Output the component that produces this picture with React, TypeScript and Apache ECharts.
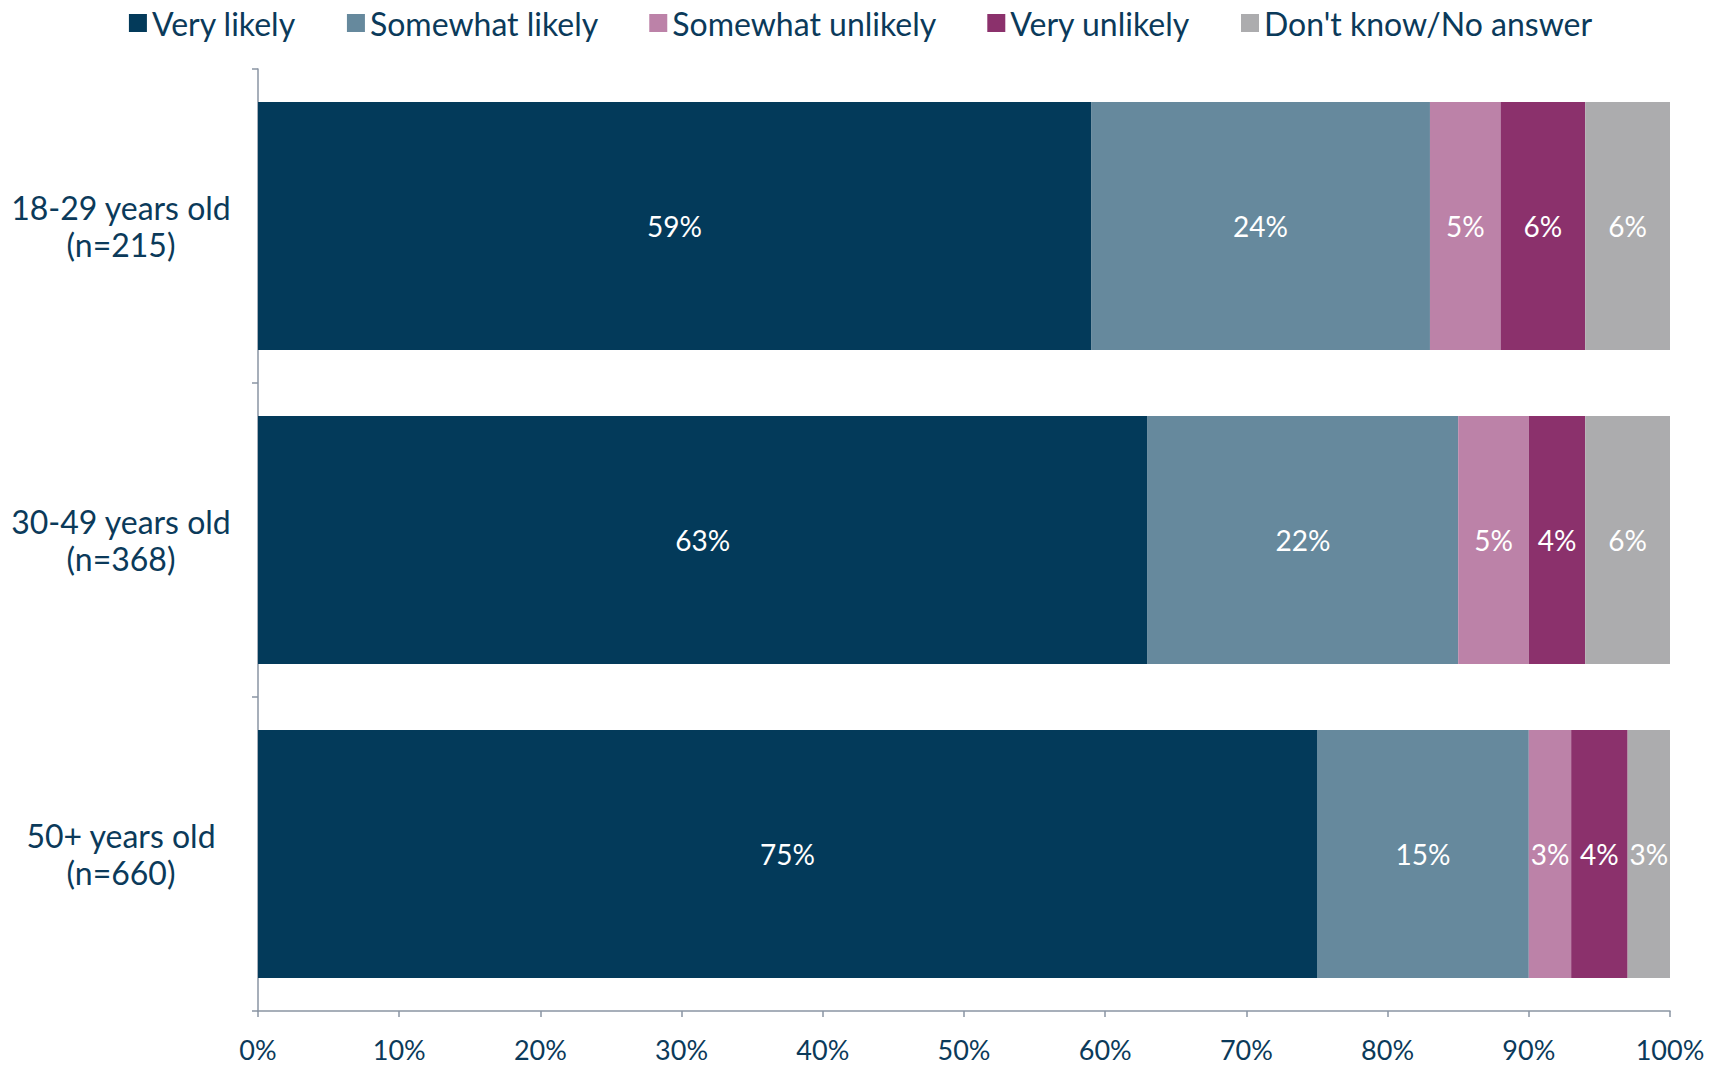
import React, { useEffect, useRef } from "react";
import * as echarts from "echarts";

const categories = ["18-29 years old\n(n=215)", "30-49 years old\n(n=368)", "50+ years old\n(n=660)"];
const seriesNames = ["Very likely", "Somewhat likely", "Somewhat unlikely", "Very unlikely", "Don't know/No answer"];
const veryLikely = [59, 63, 75];
const somewhatLikely = [24, 22, 15];
const somewhatUnlikely = [5, 5, 3];
const veryUnlikely = [6, 4, 4];
const dontKnow = [6, 6, 3];
const xTicks = { min: 0, max: 100, interval: 10 };

const colors = ["#033a5a", "#66899d", "#bc82a8", "#8b316c", "#acacae"];
const textColor = "#0b3a5a";
const font = "Lato, 'Open Sans', sans-serif";

export default function App() {
  const ref = useRef<HTMLDivElement>(null);
  useEffect(() => {
    if (!ref.current) return;
    const chart = echarts.init(ref.current, null, { renderer: "svg" });
    const values = [veryLikely, somewhatLikely, somewhatUnlikely, veryUnlikely, dontKnow];
    chart.setOption({
      animation: false,
      color: colors,
      textStyle: { fontFamily: font },
      legend: {
        top: 2,
        left: "center",
        itemWidth: 18,
        itemHeight: 18,
        itemGap: 51,
        icon: "rect",
        textStyle: { color: textColor, fontSize: 32, fontFamily: font },
        data: seriesNames,
      },
      grid: { left: 258, right: 51, top: 69, bottom: 56 },
      xAxis: {
        type: "value",
        min: xTicks.min,
        max: xTicks.max,
        interval: xTicks.interval,
        axisLine: { show: true, lineStyle: { color: "#8a95a3", width: 1.5 } },
        axisTick: { show: true, length: 6, lineStyle: { color: "#8a95a3", width: 1.5 } },
        splitLine: { show: false },
        axisLabel: { formatter: "{value}%", color: textColor, fontSize: 27, margin: 25, fontFamily: font },
      },
      yAxis: {
        type: "category",
        inverse: true,
        data: categories,
        axisLine: { show: true, lineStyle: { color: "#8a95a3", width: 1.5 } },
        axisTick: { show: true, length: 6, lineStyle: { color: "#8a95a3", width: 1.5 } },
        axisLabel: {
          color: textColor,
          fontSize: 32,
          lineHeight: 37,
          align: "center",
          margin: 137,
          fontFamily: font,
        },
      },
      series: seriesNames.map((name, i) => ({
        name,
        type: "bar",
        stack: "total",
        barWidth: "79%",
        data: values[i],
        label: {
          show: true,
          position: "inside",
          formatter: "{c}%",
          color: "#ffffff",
          fontSize: 28,
          fontFamily: font,
        },
        itemStyle: { color: colors[i] },
      })),
    });
    return () => chart.dispose();
  }, []);
  return (
    <div
      ref={ref}
      style={{ position: "absolute", left: 0, top: 0, width: 1721, height: 1067 }}
    />
  );
}
